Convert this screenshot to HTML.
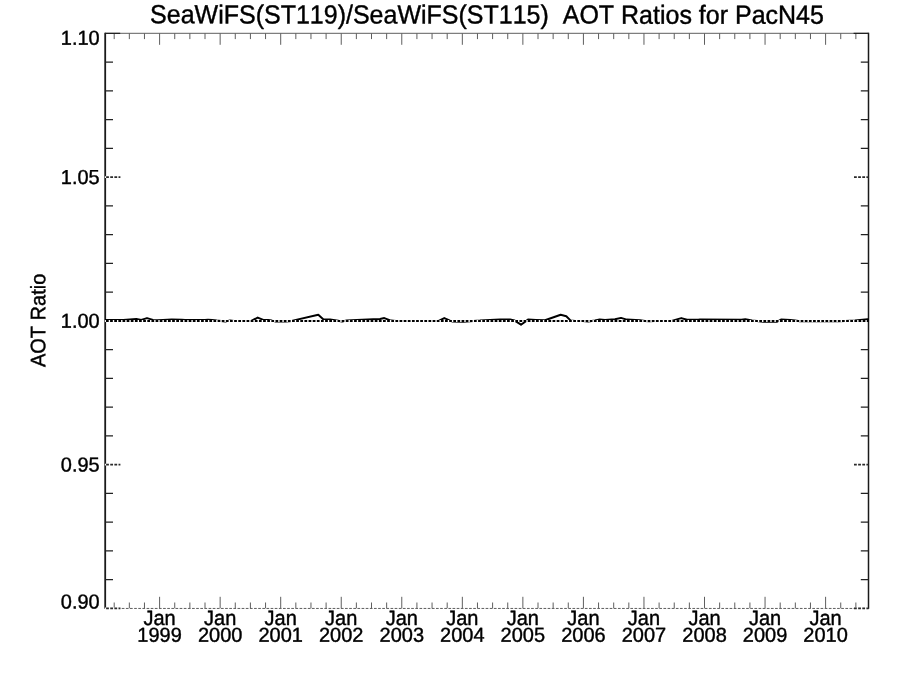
<!DOCTYPE html>
<html lang="en"><head><meta charset="utf-8"><title>SeaWiFS AOT Ratios for PacN45</title>
<style>
html,body{margin:0;padding:0;background:#fff;}
body{width:900px;height:675px;overflow:hidden;}
text{text-rendering:geometricPrecision;stroke:#000;stroke-width:0.4px;stroke-linejoin:round;}
svg{display:block;font-family:"Liberation Sans",sans-serif;fill:#000;font-kerning:none;font-variant-ligatures:none;}
</style></head><body>
<svg width="900" height="675" viewBox="0 0 900 675">
<rect width="900" height="675" fill="#fff"/>
<text transform="matrix(1 0.0006 0 1.05 487.00 23.55)" font-size="25.0" text-anchor="middle" xml:space="preserve">SeaWiFS(ST119)/SeaWiFS(ST115)  AOT Ratios for PacN45</text>
<text transform="matrix(0.0006 -1 1.045 0 45.25 320.40)" font-size="20" text-anchor="middle">AOT Ratio</text>
<text transform="matrix(1 0.0006 0 1.012 99.70 44.80)" font-size="20" text-anchor="end">1.10</text>
<text transform="matrix(1 0.0006 0 1.012 99.70 183.95)" font-size="20" text-anchor="end">1.05</text>
<text transform="matrix(1 0.0006 0 1.012 99.70 327.70)" font-size="20" text-anchor="end">1.00</text>
<text transform="matrix(1 0.0006 0 1.012 99.70 471.45)" font-size="20" text-anchor="end">0.95</text>
<text transform="matrix(1 0.0006 0 1.012 99.70 608.60)" font-size="20" text-anchor="end">0.90</text>
<text transform="matrix(1 0.0006 0 1.04 159.60 625.00)" font-size="20" text-anchor="middle">Jan</text><text transform="matrix(1 0.0006 0 1.012 159.60 641.80)" font-size="20" text-anchor="middle">1999</text>
<text transform="matrix(1 0.0006 0 1.04 220.15 625.00)" font-size="20" text-anchor="middle">Jan</text><text transform="matrix(1 0.0006 0 1.012 220.15 641.80)" font-size="20" text-anchor="middle">2000</text>
<text transform="matrix(1 0.0006 0 1.04 280.69 625.00)" font-size="20" text-anchor="middle">Jan</text><text transform="matrix(1 0.0006 0 1.012 280.69 641.80)" font-size="20" text-anchor="middle">2001</text>
<text transform="matrix(1 0.0006 0 1.04 341.24 625.00)" font-size="20" text-anchor="middle">Jan</text><text transform="matrix(1 0.0006 0 1.012 341.24 641.80)" font-size="20" text-anchor="middle">2002</text>
<text transform="matrix(1 0.0006 0 1.04 401.78 625.00)" font-size="20" text-anchor="middle">Jan</text><text transform="matrix(1 0.0006 0 1.012 401.78 641.80)" font-size="20" text-anchor="middle">2003</text>
<text transform="matrix(1 0.0006 0 1.04 462.33 625.00)" font-size="20" text-anchor="middle">Jan</text><text transform="matrix(1 0.0006 0 1.012 462.33 641.80)" font-size="20" text-anchor="middle">2004</text>
<text transform="matrix(1 0.0006 0 1.04 522.87 625.00)" font-size="20" text-anchor="middle">Jan</text><text transform="matrix(1 0.0006 0 1.012 522.87 641.80)" font-size="20" text-anchor="middle">2005</text>
<text transform="matrix(1 0.0006 0 1.04 583.42 625.00)" font-size="20" text-anchor="middle">Jan</text><text transform="matrix(1 0.0006 0 1.012 583.42 641.80)" font-size="20" text-anchor="middle">2006</text>
<text transform="matrix(1 0.0006 0 1.04 643.96 625.00)" font-size="20" text-anchor="middle">Jan</text><text transform="matrix(1 0.0006 0 1.012 643.96 641.80)" font-size="20" text-anchor="middle">2007</text>
<text transform="matrix(1 0.0006 0 1.04 704.51 625.00)" font-size="20" text-anchor="middle">Jan</text><text transform="matrix(1 0.0006 0 1.012 704.51 641.80)" font-size="20" text-anchor="middle">2008</text>
<text transform="matrix(1 0.0006 0 1.04 765.05 625.00)" font-size="20" text-anchor="middle">Jan</text><text transform="matrix(1 0.0006 0 1.012 765.05 641.80)" font-size="20" text-anchor="middle">2009</text>
<text transform="matrix(1 0.0006 0 1.04 825.60 625.00)" font-size="20" text-anchor="middle">Jan</text><text transform="matrix(1 0.0006 0 1.012 825.60 641.80)" font-size="20" text-anchor="middle">2010</text>
<g fill="none" stroke-linecap="butt">
<path d="M105.2 33.3H868.6" stroke="#5e5e5e" stroke-width="1"/>
<path d="M105.2 608.4499999999999H868.6" stroke="#5e5e5e" stroke-width="1" stroke-dasharray="2.7 1.435"/>
<path d="M114.19 33.3v5.8M114.19 608.3v-5.8M129.33 33.3v5.8M129.33 608.3v-5.8M144.46 33.3v5.8M144.46 608.3v-5.8M159.60 33.3v11.5M159.60 608.3v-11.5M174.74 33.3v5.8M174.74 608.3v-5.8M189.87 33.3v5.8M189.87 608.3v-5.8M205.01 33.3v5.8M205.01 608.3v-5.8M220.15 33.3v11.5M220.15 608.3v-11.5M235.28 33.3v5.8M235.28 608.3v-5.8M250.42 33.3v5.8M250.42 608.3v-5.8M265.55 33.3v5.8M265.55 608.3v-5.8M280.69 33.3v11.5M280.69 608.3v-11.5M295.83 33.3v5.8M295.83 608.3v-5.8M310.96 33.3v5.8M310.96 608.3v-5.8M326.10 33.3v5.8M326.10 608.3v-5.8M341.24 33.3v11.5M341.24 608.3v-11.5M356.37 33.3v5.8M356.37 608.3v-5.8M371.51 33.3v5.8M371.51 608.3v-5.8M386.65 33.3v5.8M386.65 608.3v-5.8M401.78 33.3v11.5M401.78 608.3v-11.5M416.92 33.3v5.8M416.92 608.3v-5.8M432.05 33.3v5.8M432.05 608.3v-5.8M447.19 33.3v5.8M447.19 608.3v-5.8M462.33 33.3v11.5M462.33 608.3v-11.5M477.46 33.3v5.8M477.46 608.3v-5.8M492.60 33.3v5.8M492.60 608.3v-5.8M507.74 33.3v5.8M507.74 608.3v-5.8M522.87 33.3v11.5M522.87 608.3v-11.5M538.01 33.3v5.8M538.01 608.3v-5.8M553.15 33.3v5.8M553.15 608.3v-5.8M568.28 33.3v5.8M568.28 608.3v-5.8M583.42 33.3v11.5M583.42 608.3v-11.5M598.55 33.3v5.8M598.55 608.3v-5.8M613.69 33.3v5.8M613.69 608.3v-5.8M628.83 33.3v5.8M628.83 608.3v-5.8M643.96 33.3v11.5M643.96 608.3v-11.5M659.10 33.3v5.8M659.10 608.3v-5.8M674.24 33.3v5.8M674.24 608.3v-5.8M689.37 33.3v5.8M689.37 608.3v-5.8M704.51 33.3v11.5M704.51 608.3v-11.5M719.65 33.3v5.8M719.65 608.3v-5.8M734.78 33.3v5.8M734.78 608.3v-5.8M749.92 33.3v5.8M749.92 608.3v-5.8M765.05 33.3v11.5M765.05 608.3v-11.5M780.19 33.3v5.8M780.19 608.3v-5.8M795.33 33.3v5.8M795.33 608.3v-5.8M810.46 33.3v5.8M810.46 608.3v-5.8M825.60 33.3v11.5M825.60 608.3v-11.5M840.74 33.3v5.8M840.74 608.3v-5.8M855.87 33.3v5.8M855.87 608.3v-5.8" stroke="#5e5e5e" stroke-width="1"/>
<path d="M105.2 32.8V608.8" stroke="#1a1a1a" stroke-width="1.8"/>
<path d="M868.5 32.8V608.8" stroke="#1a1a1a" stroke-width="1.5"/>
<path d="M105.2 33.30h15M868.6 33.30h-15M105.2 62.05h7.8M868.6 62.05h-7.8M105.2 90.80h7.8M868.6 90.80h-7.8M105.2 119.55h7.8M868.6 119.55h-7.8M105.2 148.30h7.8M868.6 148.30h-7.8M105.2 205.80h7.8M868.6 205.80h-7.8M105.2 234.55h7.8M868.6 234.55h-7.8M105.2 263.30h7.8M868.6 263.30h-7.8M105.2 292.05h7.8M868.6 292.05h-7.8M105.2 349.55h7.8M868.6 349.55h-7.8M105.2 378.30h7.8M868.6 378.30h-7.8M105.2 407.05h7.8M868.6 407.05h-7.8M105.2 435.80h7.8M868.6 435.80h-7.8M105.2 493.30h7.8M868.6 493.30h-7.8M105.2 522.05h7.8M868.6 522.05h-7.8M105.2 550.80h7.8M868.6 550.80h-7.8M105.2 579.55h7.8M868.6 579.55h-7.8" stroke="#222" stroke-width="1.3"/>
<path d="M104.90 177.05H120.40M854.00 177.05H867.90M104.90 464.55H120.40M854.00 464.55H867.90M104.90 608.30H120.40M854.00 608.30H867.90" stroke="#fff" stroke-width="1.7"/>
<path d="M106.10 177.05H120.40M854.00 177.05H868.6M106.10 464.55H120.40M854.00 464.55H868.6M106.10 608.30H120.40M854.00 608.30H868.6" stroke="#2a2a2a" stroke-width="1.7" stroke-dasharray="2.8 1.335"/>
<polyline points="105.2,320.1 123.3,320.1 136.3,318.9 141.3,319.9 147.0,318.1 153,319.9 157.3,320.3 163,320.0 171.7,319.6 181.7,319.7 185,320.1 205,320.1 208,319.8 212,319.9 216.7,320.6 225.3,321.6 230,320.4 234,320.9 251.3,320.9 257.7,317.6 263.3,319.9 268,319.9 271.7,320.6 275,321.4 286,321.4 291.7,320.9 318.3,314.7 323.5,319.4 330,319.6 336.7,320.6 342,321.6 346.7,320.6 356.7,319.9 373.3,319.3 380,319.0 384.3,318.1 391,320.6 396,320.9 401.7,321.1 412.3,321.1 418,320.9 438.7,320.9 444.3,318.1 450,320.6 452.7,321.6 463.3,321.8 473.3,320.9 480,320.6 490,319.9 500,319.6 510,319.6 514.7,320.6 521,324.7 528,319.6 536,320.0 545,320.3 560.7,314.8 566.3,316.2 570.7,320.6 575,320.9 583,320.9 588.3,321.6 595,320.6 599.7,319.6 605,319.9 615,319.3 621,317.9 626.7,319.6 640,320.3 645,320.9 649.3,321.3 654,320.9 671.7,320.9 681.3,318.1 687,319.7 698.3,319.8 700,319.5 741.3,319.7 745.3,319.3 752,320.6 757,320.9 763.3,321.8 776.7,321.8 778.7,320.9 781,319.6 790.3,319.9 795,320.6 800,321.3 820,321.2 838.3,321.2 845,320.9 855,320.6 867.7,319.3 868.6,319.2" stroke="#000" stroke-width="2" stroke-linejoin="round"/>
<path d="M104.9 320.95H868.0" stroke="#fff" stroke-width="2.0"/>
<path d="M105.95 320.95H868.6" stroke="#000" stroke-width="2.1" stroke-dasharray="2.75 1.385"/>
</g>
</svg>
</body></html>
